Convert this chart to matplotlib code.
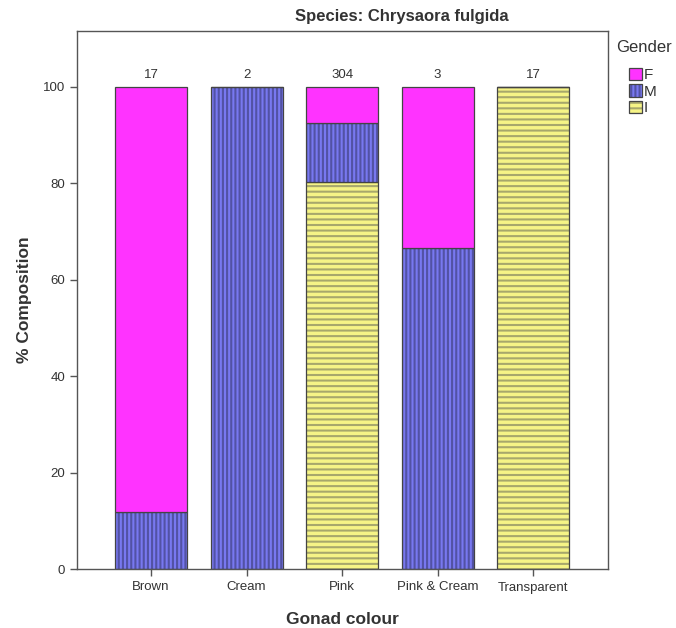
import matplotlib
matplotlib.use("Agg")
import matplotlib.pyplot as plt
import numpy as np
from matplotlib.patches import Patch

plt.rcParams['font.family'] = ['Liberation Sans', 'DejaVu Sans']
plt.rcParams['hatch.linewidth'] = 1.5

categories = ["Brown", "Cream", "Pink", "Pink & Cream", "Transparent"]
genders = ["F", "M", "I"]
# counts per gonad colour for each gender
count_F = np.array([15, 0, 23, 1, 0])
count_M = np.array([2, 2, 37, 2, 0])
count_I = np.array([0, 0, 244, 0, 17])
totals = count_F + count_M + count_I

pct_I = count_I / totals * 100
pct_M = count_M / totals * 100
pct_F = count_F / totals * 100

colors = {"F": "#ff33ff", "M": "#7878f0", "I": "#f6f486"}
hatches = {"F": None, "M": "||||", "I": "---"}
hatch_colors = {"F": "#444444", "M": "#5252a4", "I": "#a8a86c"}
edge = "#444444"
text_col = "#333333"


def tint_hatch(patch, g):
    patch._hatch_color = matplotlib.colors.to_rgba(hatch_colors[g])
    patch.stale = True


fig = plt.figure(figsize=(6.76, 6.28), dpi=100)
ax = fig.add_axes([77 / 676, 1 - 569 / 628, (608 - 77) / 676, (569 - 31) / 628])

x = np.arange(len(categories))
w = 0.754
bottom = np.zeros(len(categories))
for g, vals in (("I", pct_I), ("M", pct_M), ("F", pct_F)):
    bars = ax.bar(x, vals, w, bottom=bottom, color=colors[g], hatch=hatches[g],
                  edgecolor=edge, linewidth=0.9, zorder=2)
    for b in bars:
        tint_hatch(b, g)
    bottom += vals

for xi, t, top in zip(x, totals, bottom):
    ax.text(xi, top + 1.2, str(t), ha="center", va="bottom", fontsize=9.5, color=text_col)

ax.set_xlim(-0.775, 4.785)
ax.set_ylim(0, 111.6)
ax.set_yticks([0, 20, 40, 60, 80, 100])
ax.set_xticks(x)
ax.set_xticklabels(categories)
ax.tick_params(axis="both", labelsize=9.5, colors="#555555", labelcolor=text_col, length=5, width=1)
ax.tick_params(axis="x", pad=4)
for s in ax.spines.values():
    s.set_color("#555555")
    s.set_linewidth(1.0)

ax.set_ylabel("% Composition", fontsize=12.5, fontweight="bold", color=text_col, labelpad=8)
ax.set_xlabel("Gonad colour", fontsize=12.5, fontweight="bold", color=text_col, labelpad=13)

fig.text(402 / 676, 1 - 17 / 628, "Species: Chrysaora fulgida", ha="center", va="center",
         fontsize=12, fontweight="bold", color=text_col)

fig.text(616 / 676, 1 - 47 / 628, "Gender", ha="left", va="center", fontsize=12, color=text_col)
handles = [Patch(facecolor=colors[g], hatch=hatches[g], edgecolor=edge, linewidth=0.9) for g in genders]
leg = fig.legend(handles, genders, loc="upper left",
                 bbox_to_anchor=(618 / 676, 1 - 57 / 628), frameon=False,
                 fontsize=11, handlelength=0.85, handleheight=0.85,
                 handletextpad=0.15, labelspacing=0.15, borderpad=0.2)
for t in leg.get_texts():
    t.set_color(text_col)
for h, g in zip(leg.legend_handles, genders):
    tint_hatch(h, g)

fig.savefig("out.png", dpi=100)
